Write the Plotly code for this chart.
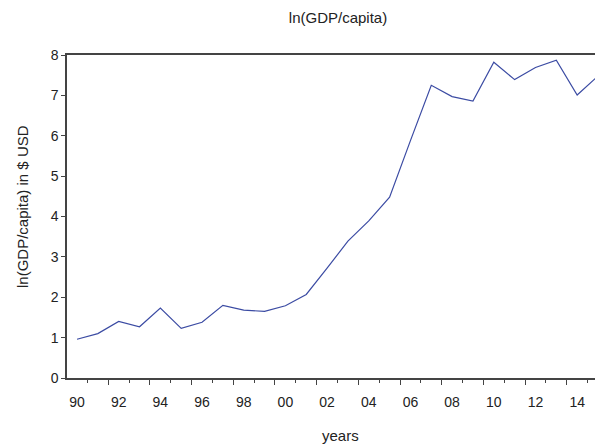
"""ln(GDP/capita) line chart, EViews-like look"""
import plotly.graph_objects as go

YEARS = list(range(1990, 2016))
LN_GDP = [0.96, 1.10, 1.40, 1.27, 1.73, 1.23, 1.38, 1.80, 1.68, 1.65,
          1.79, 2.07, 2.72, 3.39, 3.89, 4.48, 5.88, 7.25, 6.97, 6.86,
          7.82, 7.39, 7.69, 7.87, 7.01, 7.48]

LABEL_YEARS = list(range(1990, 2016, 2))
LABEL_TEXT = ['%02d' % (y % 100) for y in LABEL_YEARS]
Y_TICKS = list(range(0, 9))

FONT = 'Liberation Sans, Arial, sans-serif'
AXIS_COLOR = '#444444'
X_RANGE = [1989.52, 2015.24]

# page body has an 8px margin, so the figure is drawn 8px in from the window corner
OFF = 8
FW, FH = 603 - OFF, 444 - OFF
# plot area in window pixels -> figure pixels
L, T, B = 67 - OFF, 55 - OFF, 378 - OFF
W, H = FW - L, B - T

fig = go.Figure()
fig.add_trace(go.Scatter(x=YEARS, y=LN_GDP, mode='lines',
                         line=dict(color='#3b4ba3', width=1.2),
                         showlegend=False, hoverinfo='x+y'))
# invisible trace on second axis so its ticks are drawn
fig.add_trace(go.Scatter(x=X_RANGE, y=[0, 0], xaxis='x2', mode='lines',
                         line=dict(width=0), showlegend=False, hoverinfo='skip'))

fig.update_layout(
    width=FW, height=FH,
    margin=dict(l=L, r=0, t=T, b=FH - B, autoexpand=False),
    paper_bgcolor='white', plot_bgcolor='white',
    font=dict(family=FONT, size=15, color='#222222'),
    title=dict(text='ln(GDP/capita)', x=(338 - OFF) / FW, xanchor='center',
               y=1 - (18 - OFF) / FH, yanchor='middle', yref='container',
               font=dict(size=15, color='#222222')),
    xaxis=dict(range=X_RANGE, tickmode='array', tickvals=LABEL_YEARS,
               ticktext=LABEL_TEXT, ticks='', showgrid=False, zeroline=False,
               showline=True, mirror=True, linecolor=AXIS_COLOR, linewidth=2,
               tickfont=dict(size=14), ticklabelstandoff=10, automargin=False),
    xaxis2=dict(range=X_RANGE, overlaying='x', side='bottom', matches='x',
                tickmode='array', tickvals=[y - 0.5 for y in LABEL_YEARS],
                ticks='outside', ticklen=6, tickwidth=1, tickcolor=AXIS_COLOR,
                showticklabels=False, showgrid=False, zeroline=False, showline=False,
                automargin=False,
                minor=dict(tickmode='array', tickvals=[y + 0.5 for y in LABEL_YEARS],
                           ticks='outside', ticklen=4, tickwidth=1,
                           tickcolor=AXIS_COLOR, showgrid=False)),
    yaxis=dict(range=[0, 8], tickmode='array', tickvals=Y_TICKS,
               ticks='outside', ticklen=4, tickwidth=1, tickcolor=AXIS_COLOR,
               showgrid=False, zeroline=False, showline=True, automargin=False,
               linecolor=AXIS_COLOR, linewidth=1.5, tickfont=dict(size=14)),
    annotations=[
        dict(text='years', xref='paper', yref='paper', x=(340 - OFF - L) / W,
             y=-(435 - OFF - B) / H, xanchor='center', yanchor='middle',
             showarrow=False, font=dict(size=15)),
        dict(text='ln(GDP/capita) in $ USD', xref='paper', yref='paper',
             x=-(L - (22 - OFF)) / W, y=(B - (207 - OFF)) / H, xanchor='center',
             yanchor='middle', textangle=-90, showarrow=False,
             font=dict(size=15)),
    ],
)

fig.write_html("out.html")
